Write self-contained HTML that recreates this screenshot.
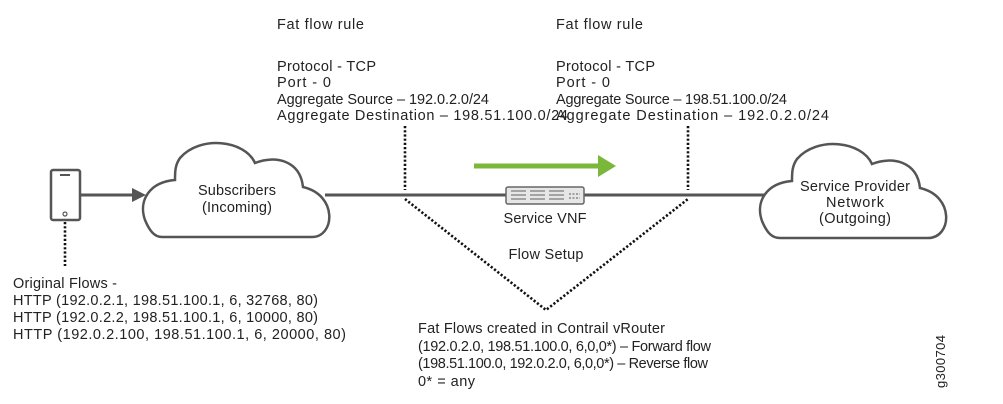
<!DOCTYPE html>
<html><head><meta charset="utf-8"><style>
html,body{margin:0;padding:0;background:#fff;}
svg{display:block;}
text{font-family:"Liberation Sans",sans-serif;font-size:14.5px;fill:#222;}
</style></head><body>
<svg width="1003" height="404" viewBox="0 0 1003 404" xmlns="http://www.w3.org/2000/svg">
<!-- top text -->
<text x="277" y="29" textLength="87" lengthAdjust="spacing">Fat flow rule</text>
<text x="277" y="71" textLength="99" lengthAdjust="spacing">Protocol - TCP</text>
<text x="277" y="87" textLength="54" lengthAdjust="spacing">Port - 0</text>
<text x="277" y="104" textLength="212" lengthAdjust="spacing">Aggregate Source – 192.0.2.0/24</text>
<text x="277" y="120" textLength="291" lengthAdjust="spacing">Aggregate Destination – 198.51.100.0/24</text>
<text x="556" y="29" textLength="87" lengthAdjust="spacing">Fat flow rule</text>
<text x="556" y="71" textLength="99" lengthAdjust="spacing">Protocol - TCP</text>
<text x="556" y="87" textLength="54" lengthAdjust="spacing">Port - 0</text>
<text x="556" y="104" textLength="231" lengthAdjust="spacing">Aggregate Source – 198.51.100.0/24</text>
<text x="556" y="120" textLength="273" lengthAdjust="spacing">Aggregate Destination – 192.0.2.0/24</text>
<!-- dotted lines -->
<g stroke="#111" stroke-width="2.6" stroke-dasharray="2.2 2" fill="none">
<line x1="405" y1="126" x2="405" y2="190"/>
<line x1="688" y1="126" x2="688" y2="190"/>
<polyline points="405,199 546,310 688,199"/>
<line x1="65" y1="222" x2="65" y2="266"/>
</g>
<!-- main line -->
<line x1="325" y1="195" x2="775" y2="195" stroke="#555" stroke-width="3"/>
<!-- phone -->
<rect x="51" y="170" width="29" height="50" rx="2" fill="#fff" stroke="#555" stroke-width="2.5"/>
<line x1="60" y1="175" x2="70" y2="175" stroke="#555" stroke-width="2"/>
<circle cx="65" cy="214" r="2" fill="none" stroke="#555" stroke-width="1.2"/>
<line x1="80" y1="195" x2="133" y2="195" stroke="#555" stroke-width="3"/>
<polygon points="132,188 146,195 132,202" fill="#555"/>
<!-- clouds -->
<path d="M162,237 L312,237 C335,237 338,195 303,187 C300,160 275,155 255,163 C245,140 200,135 180,158 C175,165 175,172 175,180 C150,182 138,200 145,220 C150,232 155,237 162,237 Z" fill="#fff" stroke="#555" stroke-width="2.5"/>
<text x="237" y="195" text-anchor="middle" textLength="78" lengthAdjust="spacing">Subscribers</text>
<text x="237" y="212" text-anchor="middle" textLength="70" lengthAdjust="spacing">(Incoming)</text>
<path d="M780,238 L928,238 C952,238 955,196 920,188 C917,161 892,156 872,164 C862,141 817,136 797,159 C792,166 792,173 792,181 C767,183 755,201 762,221 C767,233 772,238 780,238 Z" fill="#fff" stroke="#555" stroke-width="2.5"/>
<text x="855" y="191" text-anchor="middle" textLength="110" lengthAdjust="spacing">Service Provider</text>
<text x="855" y="207" text-anchor="middle" textLength="58" lengthAdjust="spacing">Network</text>
<text x="855" y="223" text-anchor="middle" textLength="72" lengthAdjust="spacing">(Outgoing)</text>
<!-- green arrow -->
<line x1="474" y1="166" x2="600" y2="166" stroke="#7ab73a" stroke-width="5"/>
<polygon points="598,155 616,166 598,177" fill="#7ab73a"/>
<!-- VNF -->
<rect x="506" y="187" width="78" height="17" rx="2" fill="#e6e6e6" stroke="#666" stroke-width="1.5"/>
<g stroke="#777" stroke-width="1.2">
<line x1="511" y1="191" x2="526" y2="191"/><line x1="511" y1="195" x2="526" y2="195"/><line x1="511" y1="199" x2="526" y2="199"/>
<line x1="530" y1="191" x2="545" y2="191"/><line x1="530" y1="195" x2="545" y2="195"/><line x1="530" y1="199" x2="545" y2="199"/>
<line x1="549" y1="191" x2="564" y2="191"/><line x1="549" y1="195" x2="564" y2="195"/><line x1="549" y1="199" x2="564" y2="199"/>
<line x1="569" y1="194" x2="580" y2="194" stroke-dasharray="2 1.5"/><line x1="569" y1="198" x2="580" y2="198" stroke-dasharray="2 1.5"/>
</g>
<text x="545" y="223" text-anchor="middle" textLength="83" lengthAdjust="spacing">Service VNF</text>
<text x="546" y="259" text-anchor="middle" textLength="75" lengthAdjust="spacing">Flow Setup</text>
<!-- left text -->
<text x="13" y="288" textLength="104" lengthAdjust="spacing">Original Flows  -</text>
<text x="13" y="305" textLength="305" lengthAdjust="spacing">HTTP (192.0.2.1, 198.51.100.1, 6, 32768, 80)</text>
<text x="13" y="322" textLength="305" lengthAdjust="spacing">HTTP (192.0.2.2, 198.51.100.1, 6, 10000, 80)</text>
<text x="13" y="339" textLength="333" lengthAdjust="spacing">HTTP (192.0.2.100, 198.51.100.1, 6, 20000, 80)</text>
<!-- bottom text -->
<text x="418" y="333" textLength="247" lengthAdjust="spacing">Fat Flows created in Contrail vRouter</text>
<text x="418" y="351" textLength="293" lengthAdjust="spacing">(192.0.2.0, 198.51.100.0, 6,0,0*) – Forward flow</text>
<text x="418" y="368" textLength="290" lengthAdjust="spacing">(198.51.100.0, 192.0.2.0, 6,0,0*) – Reverse flow</text>
<text x="418" y="386" textLength="57" lengthAdjust="spacing">0* = any</text>
<text transform="translate(945,388) rotate(-90)" style="font-size:13px" textLength="53" lengthAdjust="spacing">g300704</text>
</svg>
</body></html>
